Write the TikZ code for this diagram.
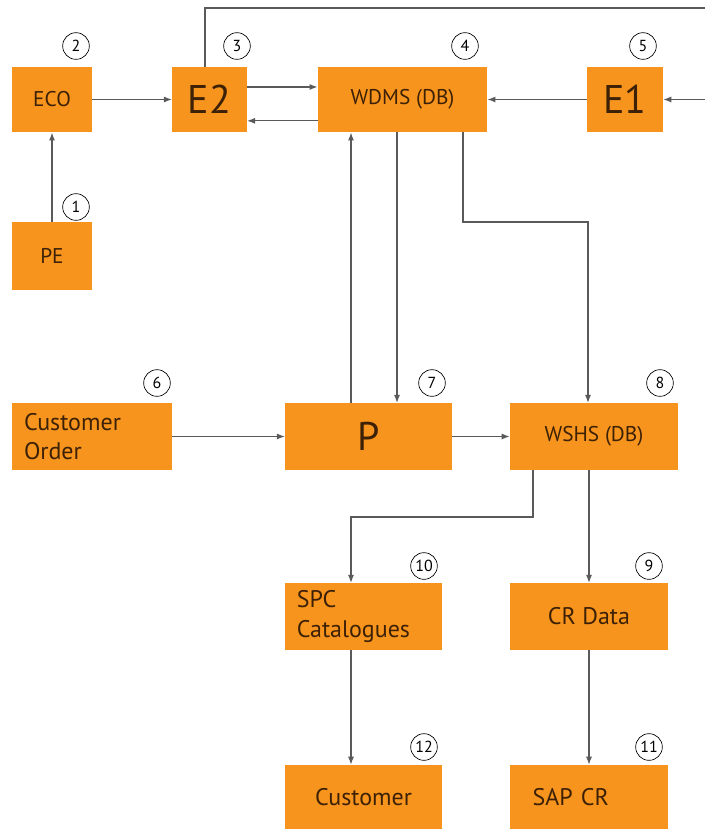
\documentclass[tikz,border=0pt]{standalone}
\usepackage{fontspec}
\setmainfont{PT Sans}
\usetikzlibrary{arrows.meta}
\definecolor{WFOrange}{HTML}{F7941D}
\definecolor{WFText}{HTML}{3D2106}
\definecolor{WFLine}{HTML}{5A5A5A}
\begin{document}
\begin{tikzpicture}[x=0.75pt,y=-0.75pt,
  box/.style={fill=WFOrange,text=WFText,inner sep=0pt,font=\fontsize{16}{19}\selectfont},
  bigbox/.style={box,font=\fontsize{30}{34}\selectfont},
  leftbox/.style={box,align=left,inner xsep=9pt,text width=#1},
  tag/.style={circle,draw=black,fill=white,line width=.5pt,minimum size=20pt,inner sep=0pt,font=\fontsize{12}{14}\selectfont},
  flow/.style={draw=WFLine,line width=.9pt,-{Latex[length=6pt,width=4.5pt]}},
  plain/.style={draw=WFLine,line width=.9pt}]
\path[use as bounding box] (0,0) rectangle (705,829);
\fill[white] (0,0) rectangle (705,829);
\node[box,minimum width=60pt,minimum height=49pt] (eco) at (52,99.5) {ECO};
\node[bigbox,minimum width=56pt,minimum height=49pt] (etwo) at (209.5,99.5) {E2};
\node[box,minimum width=127pt,minimum height=49pt] (wdms) at (402.5,99.5) {WDMS (DB)};
\node[bigbox,minimum width=57pt,minimum height=49pt] (eone) at (625,99.5) {E1};
\node[box,minimum width=60pt,minimum height=51pt] (pe) at (52,256) {PE};
\node[leftbox=102pt,minimum height=50pt,font=\fontsize{18}{22}\selectfont] (order) at (92,436.5) {Customer\\Order};
\node[bigbox,minimum width=125pt,minimum height=50pt] (proc) at (368.5,436.5) {P};
\node[box,minimum width=126pt,minimum height=50pt] (wshs) at (594,436.5) {WSHS (DB)};
\node[leftbox=100pt,minimum height=50pt,font=\fontsize{18}{22}\selectfont] (spc) at (363.5,616.5) {SPC\\Catalogues};
\node[box,minimum width=118.5pt,minimum height=50pt,font=\fontsize{18}{22}\selectfont] (crdata) at (589,616.5) {CR Data};
\node[box,minimum width=118pt,minimum height=48pt,font=\fontsize{18}{22}\selectfont] (cust) at (363.5,797) {Customer};
\node[leftbox=84.5pt,minimum height=48pt,font=\fontsize{18}{22}\selectfont,inner xsep=17pt] (sapcr) at (589,797) {SAP CR};
\node[tag] (n1) at (76,207) {1};
\node[tag] (n2) at (76,46) {2};
\node[tag] (n3) at (237,46) {3};
\node[tag] (n4) at (465,46) {4};
\node[tag] (n5) at (643,46) {5};
\node[tag] (n6) at (157,383) {6};
\node[tag] (n7) at (432,383) {7};
\node[tag] (n8) at (660,383) {8};
\node[tag] (n9) at (649,566) {9};
\node[tag] (n10) at (424,566) {10};
\node[tag] (n11) at (649,747) {11};
\node[tag] (n12) at (424,747) {12};
\coordinate (rightin) at (705,99.5);
\coordinate (topout) at (705,8);
\draw[flow] (pe) -- (eco);
\draw[flow] (eco) -- (etwo);
\draw[flow] ([yshift=9.4pt]etwo.east) -- ([yshift=9.4pt]wdms.west);
\draw[flow] ([yshift=-16pt]wdms.west) -- ([yshift=-16pt]etwo.east);
\draw[flow] (eone) -- (wdms);
\draw[flow] (rightin) -- (eone);
\draw[plain] ([xshift=-3.4pt]etwo.north) |- (topout);
\draw[flow] (351,0 |- proc.north) -- (351,0 |- wdms.south);
\draw[flow] (397,0 |- wdms.south) -- (397,0 |- proc.north);
\draw[flow] (463,0 |- wdms.south) -- (463,222) -- (588,222) -- (588,0 |- wshs.north);
\draw[flow] (order) -- (proc);
\draw[flow] (proc) -- (wshs);
\draw[flow] (533,0 |- wshs.south) -- (533,517) -- (351,517) -- (351,0 |- spc.north);
\draw[flow] (crdata.north |- wshs.south) -- (crdata.north);
\draw[flow] (351,0 |- spc.south) -- (351,0 |- cust.north);
\draw[flow] (crdata) -- (sapcr);
\end{tikzpicture}
\end{document}
